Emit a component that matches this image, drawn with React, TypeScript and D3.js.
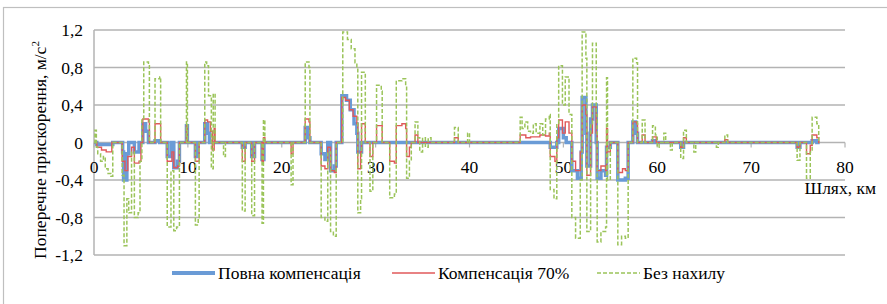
import React from "react";
import * as d3 from "d3";

// distance along the route, km -> lateral acceleration, m/s^2 (step points)
const fullComp: [number, number][] = [
  [0, 0], [0.3, -0.02], [2.0, 0], [3.05, -0.1], [3.15, -0.4], [3.5, -0.12], [3.7, 0],
  [4.3, -0.1], [4.8, 0], [5.2, 0.2], [5.5, 0.12], [5.8, 0], [6.5, 0.02], [7.0, 0],
  [7.8, -0.15], [8.2, 0], [8.5, -0.27], [8.9, -0.2], [9.1, 0], [9.85, 0.18], [9.95, 0],
  [10.8, -0.15], [11.1, 0], [11.8, 0.2], [12.1, 0.1], [12.3, 0], [15.8, -0.05], [16.1, 0],
  [16.8, -0.15], [17.1, 0], [17.9, -0.18], [18.1, 0], [22.5, 0.16], [22.8, 0.05], [23.0, 0],
  [24.2, -0.12], [24.6, -0.18], [24.9, 0], [25.2, -0.3], [25.6, -0.25], [25.8, 0],
  [26.4, 0.5], [26.9, 0.45], [27.3, 0.35], [27.7, 0.2], [28.0, 0.1], [28.1, -0.1], [28.5, 0],
  [48.6, -0.05], [49.3, 0], [49.5, 0.15], [50.0, 0.05], [50.3, 0], [50.9, -0.3], [51.5, -0.38],
  [51.9, -0.1], [52.0, 0.48], [52.4, 0.1], [52.5, -0.25], [52.9, 0.25], [53.1, 0.4], [53.5, 0],
  [53.6, -0.38], [54.0, -0.3], [54.5, -0.35], [54.6, -0.05], [55.0, 0], [55.8, -0.4],
  [56.6, -0.38], [56.9, 0], [57.4, 0.22], [57.7, 0.1], [57.9, 0], [59.5, 0.02], [59.8, 0],
  [62.5, -0.05], [62.8, 0], [74.9, -0.05], [75.2, 0], [76.5, 0.02], [77.0, 0], [77.3, 0],
];

const comp70: [number, number][] = [
  [0, 0], [0.3, -0.05], [0.8, -0.08], [1.3, -0.1], [1.9, 0], [3.0, -0.2], [3.3, -0.3],
  [3.6, -0.15], [4.0, -0.05], [4.3, -0.22], [4.8, -0.2], [5.0, 0], [5.2, 0.25], [5.8, 0.22],
  [5.9, 0], [6.5, 0.2], [7.0, 0.2], [7.1, 0], [7.8, -0.2], [8.3, -0.1], [8.5, -0.27],
  [8.9, -0.25], [9.1, 0], [9.85, 0.18], [9.95, 0], [10.8, -0.2], [11.2, 0], [11.8, 0.24],
  [12.1, 0.22], [12.4, 0.12], [12.6, -0.08], [12.8, 0.15], [12.9, 0], [15.8, -0.2], [16.1, 0],
  [16.8, -0.2], [17.1, 0], [17.9, -0.2], [18.05, 0.05], [18.2, 0], [21.0, -0.12], [21.2, 0],
  [22.5, 0.25], [22.9, 0.22], [23.0, 0], [24.2, -0.25], [24.6, -0.28], [24.9, -0.05],
  [25.2, -0.3], [25.6, -0.32], [25.8, 0], [26.4, 0.48], [26.8, 0.45], [27.2, 0.35],
  [27.6, 0.28], [28.0, 0.2], [28.1, -0.28], [28.4, -0.1], [28.5, 0.2], [28.9, 0],
  [29.4, -0.15], [29.7, 0], [30.1, 0.18], [30.7, 0], [31.5, -0.2], [32.0, -0.22],
  [32.2, 0.18], [32.8, 0.2], [33.2, 0.15], [33.3, -0.15], [33.6, -0.05], [33.8, 0],
  [34.2, 0.08], [34.5, 0], [38.4, 0.05], [38.8, 0], [45.4, 0.08], [46.0, 0.05], [46.5, 0.06],
  [47.5, 0.08], [48.1, 0.07], [48.5, 0.1], [48.6, -0.15], [49.1, -0.2], [49.3, 0.05],
  [49.5, 0.24], [49.9, 0.1], [50.2, 0.22], [50.6, 0.1], [50.9, -0.2], [51.3, -0.3],
  [51.8, -0.1], [52.0, 0.4], [52.4, 0.3], [52.5, -0.35], [52.9, 0.1], [53.1, 0.38],
  [53.5, 0.1], [53.6, -0.3], [54.0, -0.25], [54.5, -0.3], [54.6, 0.15], [54.7, -0.1],
  [55.0, 0], [55.8, -0.32], [56.3, -0.28], [56.6, -0.3], [56.9, 0], [57.4, 0.22],
  [57.8, 0.2], [57.9, 0], [58.4, 0.08], [58.7, 0], [59.5, 0.06], [59.9, 0], [62.5, -0.05],
  [62.8, 0.05], [63.1, 0], [67.2, 0.03], [67.5, 0], [74.9, -0.05], [75.2, 0], [75.9, -0.12],
  [76.3, -0.03], [76.5, 0.08], [77.0, 0.05], [77.2, 0], [77.3, 0],
];

const noTilt: [number, number][] = [
  [0, 0], [0.1, 0.13], [0.25, -0.05], [0.4, -0.12], [0.7, -0.2], [1.0, -0.15], [1.2, -0.28],
  [1.5, -0.33], [1.8, -0.36], [2.0, 0], [3.0, -0.35], [3.2, -1.1], [3.5, -0.6], [3.7, -0.75],
  [4.0, -0.1], [4.3, -0.8], [4.7, -0.75], [4.9, -0.2], [5.1, 0.25], [5.3, 0.86], [5.8, 0.82],
  [5.9, 0], [6.5, 0.68], [7.0, 0.7], [7.1, 0], [7.8, -0.9], [8.2, -0.3], [8.5, -0.94],
  [8.8, -0.9], [9.1, 0], [9.85, 0.86], [9.95, 0], [10.8, -0.88], [11.1, -0.8], [11.2, 0],
  [11.8, 0.86], [12.0, 0.82], [12.2, 0.5], [12.5, -0.28], [12.7, 0.52], [12.9, 0],
  [13.8, -0.15], [14.0, 0], [15.8, -0.73], [16.1, 0], [16.8, -0.78], [17.1, 0], [17.9, -0.86],
  [18.05, 0.24], [18.2, 0], [21.0, -0.45], [21.2, 0], [22.5, 0.86], [22.9, 0.8], [23.0, 0],
  [24.2, -0.8], [24.6, -0.84], [24.9, -0.1], [25.2, -0.95], [25.5, -1.0], [25.8, 0],
  [26.5, 1.18], [27.0, 1.1], [27.4, 1.0], [27.8, 0.85], [28.0, 0.8], [28.1, -0.75],
  [28.4, -0.6], [28.5, 0.75], [28.9, 0], [29.4, -0.52], [29.7, 0], [30.1, 0.61], [30.6, 0.55],
  [30.7, 0], [31.5, -0.59], [32.0, -0.55], [32.2, 0.66], [32.8, 0.68], [33.2, 0.6],
  [33.3, -0.38], [33.6, -0.2], [33.8, 0], [34.2, 0.22], [34.5, 0.05], [34.7, -0.1],
  [35.0, 0.05], [35.3, -0.05], [35.6, 0.05], [35.9, 0], [38.4, 0.16], [38.8, 0], [39.8, 0.1],
  [40.0, 0], [45.4, 0.27], [45.6, 0.15], [45.9, 0.22], [46.2, 0.12], [46.5, 0.1], [46.8, 0.2],
  [47.1, 0.1], [47.5, 0.2], [47.8, 0.08], [48.1, 0.25], [48.5, 0.3], [48.6, -0.5],
  [49.0, -0.6], [49.3, 0.2], [49.5, 0.82], [49.9, 0.4], [50.2, 0.7], [50.6, 0.3],
  [50.9, -0.8], [51.3, -1.02], [51.8, -0.4], [52.0, 1.18], [52.4, 0.9], [52.5, -0.95],
  [52.9, 0.2], [53.1, 1.06], [53.5, 0.3], [53.6, -1.06], [54.0, -0.95], [54.5, -0.9],
  [54.6, 0.69], [54.7, -0.4], [55.0, 0], [55.8, -1.09], [56.2, -1.0], [56.6, -1.02],
  [56.9, 0], [57.4, 0.9], [57.8, 0.85], [57.9, 0], [58.4, 0.24], [58.7, 0], [59.5, 0.18],
  [59.8, 0.08], [60.0, -0.05], [60.2, 0], [60.7, 0.1], [60.9, 0], [61.4, -0.08], [61.6, 0],
  [62.5, -0.17], [62.8, 0.13], [63.1, 0], [63.9, -0.1], [64.1, 0], [66.3, -0.05], [66.5, 0],
  [67.2, 0.08], [67.5, 0], [74.9, -0.19], [75.2, 0], [75.9, -0.38], [76.3, -0.1],
  [76.5, 0.27], [77.0, 0.2], [77.2, 0], [77.3, 0],
];

const xTicks = [0, 10, 20, 30, 40, 50, 60, 70, 80];
const yTicks = [-1.2, -0.8, -0.4, 0, 0.4, 0.8, 1.2];
const seriesNames = ["Повна компенсація", "Компенсація 70%", "Без нахилу"];

const W = 887;
const H = 304;
const FONT = "'Liberation Serif', 'Times New Roman', serif";
const FS = 17.5;

export default function App() {
  const x = d3.scaleLinear().domain([0, 80]).range([94, 845]);
  const y = d3.scaleLinear().domain([-1.2, 1.2]).range([255, 30]);

  const line = d3
    .line<[number, number]>()
    .x((d) => x(d[0]))
    .y((d) => y(d[1]))
    .curve(d3.curveStepAfter);

  const fmt = (v: number) => (v === 0 ? "0" : d3.format(".1f")(v).replace(".", ",").replace("−", "-"));

  const legend = [
    { name: seriesNames[0], x: 172, color: "#6a9bd6", width: 4, dash: undefined },
    { name: seriesNames[1], x: 392, color: "#e0585a", width: 1.5, dash: undefined },
    { name: seriesNames[2], x: 597, color: "#9bc45a", width: 1.5, dash: "4,2" },
  ];

  const txt = { fontFamily: FONT };

  return (
    <svg width={W} height={H} style={{ position: "absolute", left: 0, top: 0, background: "#fff" }}>
      {/* chart border */}
      <rect x={3.5} y={7.5} width={W + 20} height={H + 20} fill="none" stroke="#bfbfbf" strokeWidth={1.2} />

      {/* gridlines */}
      {yTicks.map((t) => (
        <line key={t} x1={x(0)} x2={x(80)} y1={y(t)} y2={y(t)} stroke="#b3b3b3" strokeWidth={1.5} />
      ))}
      <line x1={x(0)} x2={x(0)} y1={y(1.2)} y2={y(-1.2)} stroke="#b3b3b3" strokeWidth={1.5} />

      {/* x ticks on the zero line */}
      {xTicks.map((t) => (
        <line key={t} x1={x(t)} x2={x(t)} y1={y(0)} y2={y(0) + 5} stroke="#b3b3b3" strokeWidth={1.2} />
      ))}

      {/* y tick labels */}
      {yTicks.map((t) => (
        <text key={t} x={83} y={y(t)} dy="0.35em" textAnchor="end" fontSize={FS} fill="#000" style={txt}>
          {fmt(t)}
        </text>
      ))}

      {/* x tick labels */}
      {xTicks.map((t) => (
        <text key={t} x={x(t)} y={173} textAnchor="middle" fontSize={FS} fill="#000" style={txt}>
          {t}
        </text>
      ))}

      {/* series */}
      <path d={line(fullComp) || ""} fill="none" stroke="#6a9bd6" strokeWidth={3.5} />
      <path d={line(comp70) || ""} fill="none" stroke="#e0585a" strokeWidth={1.4} />
      <path d={line(noTilt) || ""} fill="none" stroke="#9bc45a" strokeWidth={1.5} strokeDasharray="4,2" />

      {/* axis titles */}
      <text x={876} y={194} textAnchor="end" fontSize={FS} fill="#000" style={txt}>
        Шлях, км
      </text>
      <text transform="translate(46,150) rotate(-90)" textAnchor="middle" fontSize={FS} fill="#000" style={txt}>
        Поперечне прискорення, м/с
        <tspan fontSize={11} dy={-7}>2</tspan>
      </text>

      {/* legend */}
      {legend.map((l) => (
        <g key={l.name}>
          <line
            x1={l.x}
            x2={l.x + 43}
            y1={273}
            y2={273}
            stroke={l.color}
            strokeWidth={l.width}
            strokeDasharray={l.dash}
          />
          <text x={l.x + 46} y={279} fontSize={FS} fill="#000" style={txt}>
            {l.name}
          </text>
        </g>
      ))}
    </svg>
  );
}
